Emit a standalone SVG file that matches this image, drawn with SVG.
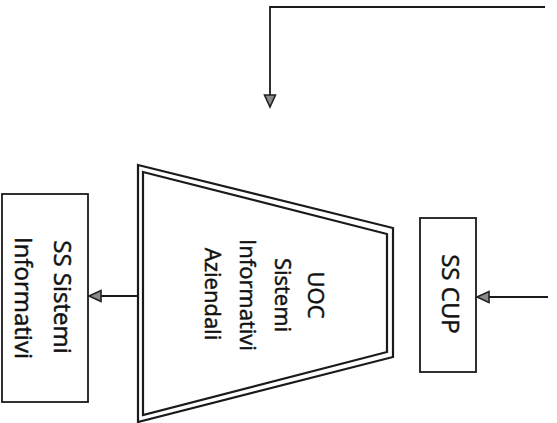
<svg xmlns="http://www.w3.org/2000/svg" width="557" height="423" viewBox="0 0 557 423">
<defs>
<marker id="arr" markerWidth="16" markerHeight="14" refX="13" refY="7" orient="auto" markerUnits="userSpaceOnUse">
<path d="M1,1.5 L13,7 L1,12.5 Z" fill="#8a8a8a" stroke="#222" stroke-width="1.6" stroke-linejoin="miter"/>
</marker>
<style>
.box{fill:#fff;stroke:#1a1a1a;stroke-width:1.8}
.trap{fill:none;stroke:#1a1a1a;stroke-width:2.2}
.conn{fill:none;stroke:#1a1a1a;stroke-width:1.8}
.t{font-family:"Open Sans","Noto Sans","Liberation Sans",sans-serif;fill:#111;stroke:#111;stroke-width:0.5;text-anchor:middle}
</style>
</defs>
<rect width="557" height="423" fill="#fff"/>
<g id="connectors">
<path class="conn" d="M545,7 H270 V107" marker-end="url(#arr)"/>
<path class="conn" d="M548,297 H477" marker-end="url(#arr)"/>
<path class="conn" d="M138,296 H89" marker-end="url(#arr)"/>
</g>
<g id="uoc">
<polygon class="trap" points="138,165 393,228 393,357 138,422"/>
<polygon class="trap" points="143,172 387,234 387,352 143,415"/>
<text class="t" font-size="22" transform="translate(308,295) rotate(90)">UOC</text>
<text class="t" font-size="22" transform="translate(275,295) rotate(90)">Sistemi</text>
<text class="t" font-size="22" transform="translate(240,295) rotate(90)">Informativi</text>
<text class="t" font-size="22" transform="translate(205,294) rotate(90)">Aziendali</text>
</g>
<g id="ss-sistemi">
<rect class="box" x="2" y="194" width="86" height="208"/>
<text class="t" font-size="24" transform="translate(54,297) rotate(90)">SS Sistemi</text>
<text class="t" font-size="24" transform="translate(15,298) rotate(90)">Informativi</text>
</g>
<g id="ss-cup">
<rect class="box" x="420" y="218" width="56" height="154"/>
<text class="t" font-size="24" transform="translate(442,294) rotate(90)">SS CUP</text>
</g>
</svg>
